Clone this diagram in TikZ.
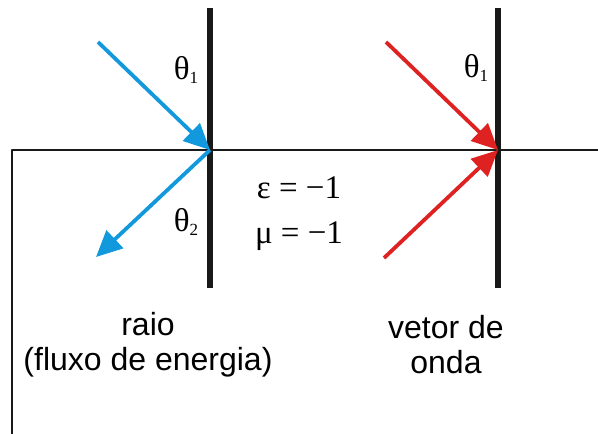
\documentclass[tikz,border=0pt]{standalone}
\usepackage{fontspec}
\setmainfont{Liberation Sans}
\newfontfamily\serifgr{Liberation Serif}
\usetikzlibrary{arrows.meta}
\definecolor{rayblue}{RGB}{18,152,220}
\definecolor{wavered}{RGB}{222,34,34}
\tikzset{
  mirror/.style={line width=5.5pt, black!90},
  axis/.style={line width=2pt, black!90, line join=round},
  ray/.style={line width=3.8pt, -{Triangle[length=26pt,width=24pt]}},
  greek/.style={font=\serifgr\fontsize{33}{36}\selectfont, inner sep=0pt},
  label/.style={font=\fontsize{32}{35}\selectfont, inner sep=0pt, align=center}
}
\newcommand{\thsub}[1]{θ\raisebox{-4pt}{\fontsize{17}{17}\selectfont #1}}
\begin{document}
\begin{tikzpicture}[x=1pt,y=-1pt]
\useasboundingbox (0,0) rectangle (598,434);
% coordinates
\coordinate (mlt) at (210,8);
\coordinate (mlb) at (210,288);
\coordinate (mrt) at (498,8);
\coordinate (mrb) at (498,288);
\coordinate (hl) at (12,150);
\coordinate (hr) at (598,150);
\coordinate (vb) at (12,434);
\coordinate (pl) at (210,150);
\coordinate (pr) at (498,150);
\coordinate (bin) at (98,42);
\coordinate (bout) at (96,257);
\coordinate (rin) at (386,42);
\coordinate (rin2) at (384,258);
% lines
\draw[axis] (vb) -- (hl) -- (hr);
\draw[mirror] (mlt) -- (mlb);
\draw[mirror] (mrt) -- (mrb);
% rays
\draw[ray, rayblue] (bin) -- (pl);
\draw[ray, rayblue] (pl) -- (bout);
\draw[ray, wavered] (rin) -- (pr);
\draw[ray, wavered] (rin2) -- (pr);
% labels
\node[greek] (t1) at (186,70) {\thsub{1}};
\node[greek] (t2) at (186,222) {\thsub{2}};
\node[greek] (t3) at (476,68) {\thsub{1}};
\node[greek] (eps) at (299,188) {ε = −1};
\node[greek] (mu) at (299,236) {μ = −1};
\node[label] (raio) at (148,345) {raio\\(fluxo de energia)};
\node[label] (vetor) at (446,345) {vetor de\\onda};
\end{tikzpicture}
\end{document}
